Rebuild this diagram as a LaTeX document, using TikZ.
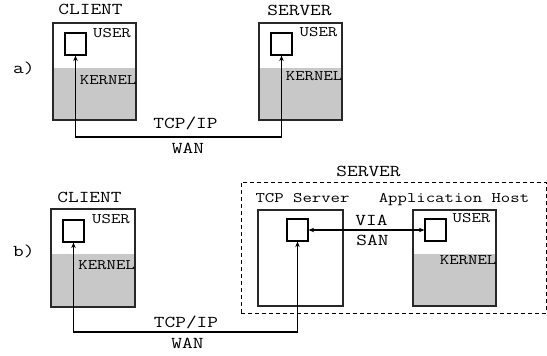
\documentclass[tikz,border=0pt]{standalone}
\usepackage{fontspec}
\newfontfamily\typew{Latin Modern Mono}[FakeStretch=1.25]
\usetikzlibrary{arrows.meta,backgrounds}
\definecolor{kernelgray}{RGB}{200,200,200}
\definecolor{outline}{RGB}{40,40,40}

\begin{document}
\begin{tikzpicture}[x=1pt,y=-1pt,
  big/.style={font=\typew\fontsize{16.6}{18}\selectfont, inner sep=0pt, anchor=base},
  small/.style={font=\typew\fontsize{14.6}{16}\selectfont, inner sep=0pt, anchor=base},
  host/.style={draw=outline, line width=1.1pt, inner sep=0pt, minimum width=83pt, minimum height=97pt},
  proc/.style={draw, line width=1.2pt, inner sep=0pt, minimum width=21pt, minimum height=22pt},
  kernel/.style={fill=kernelgray},
  link/.style={line width=1.5pt, {Stealth[length=5.5pt,width=4.5pt]}-{Stealth[length=5.5pt,width=4.5pt]}},
  group/.style={draw, line width=0.9pt, dash pattern=on 4pt off 3pt, inner sep=0pt}
]
\useasboundingbox (0,0) rectangle (547,356);

% ---------- a) direct TCP/IP between client and server ----------
\node[big, anchor=base west] (lblA) at (13,73) {a)};

\node[host] (cliA) at (94.5,71.5) {};
\node[host] (srvA) at (300.5,71.5) {};
\node[proc] (procCA) at (75.5,44) {};
\node[proc] (procSA) at (281.5,44) {};

\node[big] (tCliA) at (90.5,15) {CLIENT};
\node[big] (tSrvA) at (299.5,16) {SERVER};
\node[small, anchor=base east] (uCliA) at (131,37.5) {USER};
\node[small, anchor=base east] (kCliA) at (136.5,84) {KERNEL};
\node[small, anchor=base east] (uSrvA) at (337.5,36) {USER};
\node[small, anchor=base east] (kSrvA) at (342.5,80) {KERNEL};

\coordinate (wanA) at (180,137);
\draw[link] (procCA.south) |- (wanA) -| (procSA.south);
\node[big] (tcpA) at (185.5,128) {TCP/IP};
\node[big] (wanLblA) at (188,153) {WAN};

% ---------- b) TCP server in front of application host over a SAN ----------
\node[big, anchor=base west] (lblB) at (13,256) {b)};

\node[host, minimum width=84pt, minimum height=98pt] (cliB) at (93,258) {};
\node[proc] (procCB) at (73.5,231) {};
\node[big] (tCliB) at (89.5,202) {CLIENT};
\node[small, anchor=base east] (uCliB) at (130,223) {USER};
\node[small, anchor=base east] (kCliB) at (135,269) {KERNEL};

\node[group, minimum width=305pt, minimum height=131pt] (srvGroup) at (393.5,247.5) {};
\node[big] (tSrvB) at (368.5,176) {SERVER};

\node[host, minimum width=85pt, minimum height=96pt] (tcpSrv) at (300.5,258) {};
\node[proc] (procT) at (297.5,230) {};
\node[small] (tTcp) at (302.5,202) {TCP Server};

\node[host, minimum width=83pt, minimum height=96pt] (appHost) at (454.5,258) {};
\node[proc] (procApp) at (435.5,230) {};
\node[small] (tApp) at (454,202) {Application Host};
\node[small, anchor=base east] (uApp) at (490.5,222) {USER};
\node[small, anchor=base east] (kApp) at (496.5,264) {KERNEL};

\draw[link] (procT.east) -- (procApp.west);
\node[big] (via) at (371.5,225) {VIA};
\node[big] (san) at (372.5,245) {SAN};

\coordinate (wanB) at (185,332);
\draw[link] (procCB.south) |- (wanB) -| (procT.south);
\node[big] (tcpB) at (186,327) {TCP/IP};
\node[big] (wanLblB) at (187.5,348) {WAN};

% kernel halves of the hosts, behind the outlines
\begin{scope}[on background layer]
  \fill[kernel] (cliA.south west) rectangle ([yshift=53pt]cliA.south east);
  \fill[kernel] (srvA.south west) rectangle ([yshift=53pt]srvA.south east);
  \fill[kernel] (cliB.south west) rectangle ([yshift=54pt]cliB.south east);
  \fill[kernel] (appHost.south west) rectangle ([yshift=53pt]appHost.south east);
\end{scope}
\end{tikzpicture}
\end{document}
